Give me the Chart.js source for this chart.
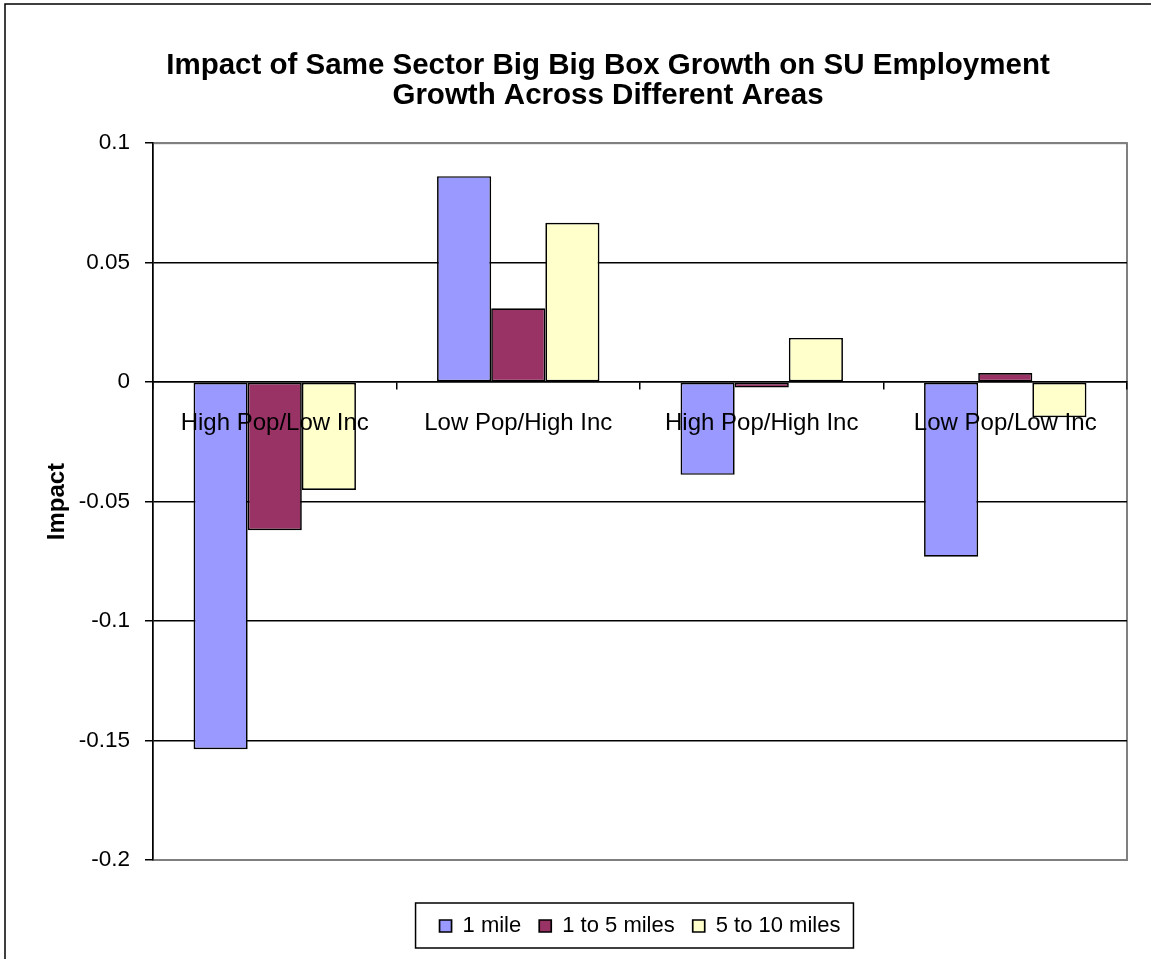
<!DOCTYPE html>
<html>
<head>
<meta charset="utf-8">
<script src="https://cdn.jsdelivr.net/npm/chart.js@4.4.0/dist/chart.umd.min.js"></script>
<style>
  html, body { margin: 0; padding: 0; background: #fff; overflow: hidden; }
  #wrap { width: 1176px; height: 959px; }
</style>
</head>
<body>
<div id="wrap"><canvas id="impactChart"></canvas></div>
<script>
const areas = ['High Pop/Low Inc', 'Low Pop/High Inc', 'High Pop/High Inc', 'Low Pop/Low Inc'];
const oneMile = [-0.1536, 0.0862, -0.0388, -0.0731];
const oneToFive = [-0.062, 0.0309, -0.0023, 0.0038];
const fiveToTen = [-0.0451, 0.0667, 0.0185, -0.0147];
const seriesNames = ['1 mile', '1 to 5 miles', '5 to 10 miles'];
const seriesColors = ['#9999ff', '#993366', '#ffffcc'];
const yTicks = [0.1, 0.05, 0, -0.05, -0.1, -0.15, -0.2];

const FONT = "'Liberation Sans', Arial, sans-serif";

// frame of the whole picture and grey border of the plot area
const framePlugin = {
  id: 'frame',
  beforeDraw(chart) {
    const { ctx, chartArea: a } = chart;
    ctx.save();
    ctx.strokeStyle = '#000';
    ctx.lineWidth = 1.5;
    ctx.strokeRect(5, 4, chart.width + 10, chart.height + 10);
    ctx.strokeStyle = '#808080';
    ctx.lineWidth = 2;
    ctx.strokeRect(a.left, a.top, a.right - a.left, a.bottom - a.top);
    ctx.restore();
  },
  afterDraw(chart) {
    // box round the legend, like excel does
    const hb = chart.legend.legendHitBoxes;
    if (!hb || !hb.length) return;
    const left = Math.min(...hb.map((b) => b.left)) - 24;
    const right = Math.max(...hb.map((b) => b.left + b.width)) + 13;
    const top = hb[0].top - 12;
    const bottom = hb[0].top + hb[0].height + 11;
    const { ctx } = chart;
    ctx.save();
    ctx.strokeStyle = '#000';
    ctx.lineWidth = 1.5;
    ctx.strokeRect(left, top, right - left, bottom - top);
    ctx.restore();
  },
};

const seriesData = [oneMile, oneToFive, fiveToTen];

const myChart = new Chart('impactChart', {
  type: 'bar',
  data: {
    labels: areas,
    datasets: seriesData.map((values, i) => ({
      label: seriesNames[i],
      data: values,
      backgroundColor: seriesColors[i],
      borderColor: '#000',
      borderWidth: 1.7,
      borderSkipped: false,
      categoryPercentage: 0.667,
      barPercentage: 1.0,
      xAxisID: 'x',
      yAxisID: 'y',
    })),
  },
  options: {
    responsive: true,
    maintainAspectRatio: false,
    animation: false,
    layout: { padding: { left: 40, right: 0, top: 20, bottom: 12 } },
    scales: {
      x: {
        position: { y: 0 },
        offset: true,
        grid: {
          display: true,
          drawOnChartArea: false,
          drawTicks: true,
          tickLength: 7,
          color: '#000',
          lineWidth: 1.5,
          offset: true,
        },
        border: { display: true, color: '#000', width: 1.5 },
        ticks: {
          z: 1, // labels sit on top of the bars
          color: '#000',
          font: { family: FONT, size: 24 },
          padding: 20,
          autoSkip: false,
          maxRotation: 0,
        },
      },
      xPad: {
        type: 'linear',
        position: 'bottom',
        grid: { display: false },
        ticks: { display: false },
        border: { display: false },
        afterFit: (s) => { s.height = 37; },
      },
      y: {
        min: -0.2,
        max: 0.1,
        afterBuildTicks: (s) => { s.ticks = yTicks.map((v) => ({ value: v })); },
        afterFit: (s) => { s.width = 113; },
        title: {
          display: true,
          text: 'Impact',
          color: '#000',
          font: { family: FONT, size: 24, weight: 'bold' },
          padding: { top: 3, bottom: 0 },
        },
        grid: {
          color: (ctx) => (ctx.tick && (ctx.tick.value === 0.1 || ctx.tick.value === -0.2) ? '#808080' : '#000'),
          tickColor: '#000',
          lineWidth: 1.5,
          tickLength: 8,
        },
        border: { color: '#000', width: 1.5 },
        ticks: {
          color: '#000',
          font: { family: FONT, size: 22.5 },
          padding: 15,
          callback: (v) => String(Math.round(v * 100) / 100),
        },
      },
      yR: {
        type: 'linear',
        position: 'right',
        grid: { display: false },
        ticks: { display: false },
        border: { display: false },
        afterFit: (s) => { s.width = 49; },
      },
    },
    plugins: {
      title: {
        display: true,
        text: ['Impact of Same Sector Big Big Box Growth on SU Employment', 'Growth Across Different Areas'],
        color: '#000',
        font: { family: FONT, size: 29.5, weight: 'bold', lineHeight: 1.02 },
        padding: { top: 31, bottom: 32 },
      },
      legend: {
        position: 'bottom',
        fullSize: false,
        labels: {
          boxWidth: 12,
          boxHeight: 12,
          padding: 18,
          color: '#000',
          font: { family: FONT, size: 22 },
        },
      },
      tooltip: { enabled: false },
    },
  },
  plugins: [framePlugin],
});
</script>
</body>
</html>
